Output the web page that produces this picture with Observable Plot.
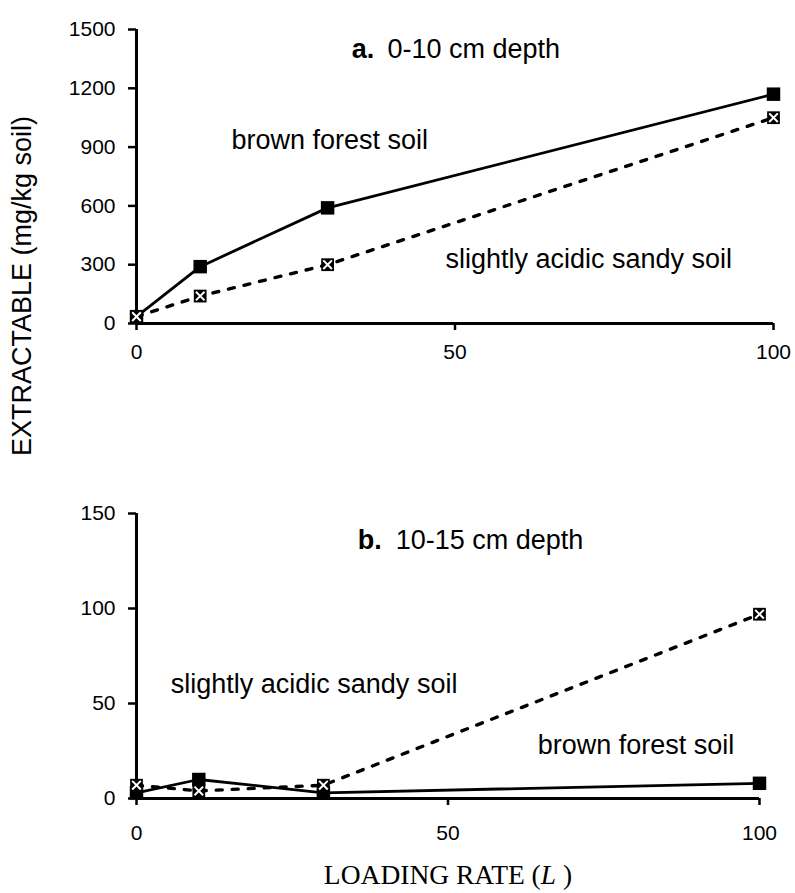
<!DOCTYPE html>
<html>
<head>
<meta charset="utf-8">
<script src="https://cdn.jsdelivr.net/npm/d3@7"></script>
<script src="https://cdn.jsdelivr.net/npm/@observablehq/plot@0.6"></script>
<style>
  html, body { margin: 0; padding: 0; background: #fff; }
  #wrap { position: relative; width: 795px; height: 893px; background: #fff; overflow: hidden; }
  #top, #bottom { position: absolute; left: 0; }
  #top { top: 0; }
  #bottom { top: 480px; }
  #ytitle { position: absolute; left: 22px; top: 286px; transform: translate(-50%, -50%) rotate(-90deg);
    white-space: nowrap; font: 27px/27px "Liberation Sans", Arial, sans-serif; color: #000; }
  #xtitle { position: absolute; left: 448px; top: 861px; transform: translateX(-50%); white-space: nowrap;
    font: 27.5px/27.5px "Liberation Serif", "Times New Roman", serif; color: #000; }
</style>
</head>
<body>
<div id="wrap">
  <div id="top"></div>
  <div id="bottom"></div>
  <div id="ytitle">EXTRACTABLE (mg/kg soil)</div>
  <div id="xtitle">LOADING RATE (<i>L</i> )</div>
</div>
<script>
// Data
const loading = [0, 10, 30, 100];
const topBrown = [35, 290, 590, 1170];   // brown forest soil, 0-10 cm
const topSandy = [35, 140, 300, 1050];   // slightly acidic sandy soil, 0-10 cm
const botBrown = [3, 10, 3, 8];          // brown forest soil, 10-15 cm
const botSandy = [7, 4, 7, 97];          // slightly acidic sandy soil, 10-15 cm
const topYTicks = [0, 300, 600, 900, 1200, 1500];
const botYTicks = [0, 50, 100, 150];
const xTicks = [0, 50, 100];
const labelBrown = "brown forest soil";
const labelSandy = "slightly acidic sandy soil";
const titleTopLetter = "a.";
const titleTopText = "0-10 cm depth";
const titleBotLetter = "b.";
const titleBotText = "10-15 cm depth";

const rows = (b, s) => loading.map((x, i) => ({x, brown: b[i], sandy: s[i]}));

function panel({data, yDomain, yTicks, marginTop, marginBottom, marginRight, xPad, texts}) {
  return Plot.plot({
    width: 795,
    height: 380,
    marginLeft: 136,
    marginRight,
    marginTop,
    marginBottom,
    style: {fontFamily: '"Liberation Sans", Arial, sans-serif', fontSize: "21px", color: "#000", background: "#fff"},
    x: {domain: [0, 100]},
    y: {domain: yDomain},
    marks: [
      Plot.axisY({ticks: yTicks, tickFormat: d => String(d), tickSize: 8, tickPadding: 13, strokeWidth: 2.5, label: null, fontSize: 21}),
      Plot.axisX({ticks: xTicks, tickFormat: d => String(d), tickSize: 7, tickPadding: xPad, strokeWidth: 2.5, label: null, fontSize: 21}),
      Plot.ruleY([0], {strokeWidth: 3}),
      Plot.ruleX([0], {strokeWidth: 3}),
      Plot.line(data, {x: "x", y: "sandy", stroke: "#000", strokeWidth: 3.4, strokeDasharray: "6,10"}),
      Plot.line(data, {x: "x", y: "brown", stroke: "#000", strokeWidth: 2.8}),
      Plot.dot(data, {x: "x", y: "brown", symbol: "square", fill: "#000", r: 7.6}),
      Plot.dot(data, {x: "x", y: "sandy", symbol: "square", fill: "#000", r: 7.2}),
      Plot.dot(data, {x: "x", y: "sandy", symbol: "times", stroke: "#fff", strokeWidth: 2, r: 4}),
      ...texts
    ]
  });
}

const txt = (s, x, y, extra = {}) =>
  Plot.text([s], {x, y, text: d => d, textAnchor: "start", lineAnchor: "middle", fontSize: 27, fill: "#000", ...extra});

const topSvg = panel({
  data: rows(topBrown, topSandy),
  yDomain: [0, 1500],
  yTicks: topYTicks,
  marginTop: 29,
  marginBottom: 57,
  marginRight: 22,
  xPad: 14,
  texts: [
    txt(titleTopLetter, 33.8, 1398, {fontWeight: "bold"}),
    txt(titleTopText, 39.4, 1398),
    txt(labelBrown, 14.9, 934),
    txt(labelSandy, 48.5, 327)
  ]
});
document.getElementById("top").appendChild(topSvg);

const botSvg = panel({
  data: rows(botBrown, botSandy),
  yDomain: [0, 150],
  yTicks: botYTicks,
  marginTop: 33,
  marginBottom: 62,
  marginRight: 36,
  xPad: 20,
  texts: [
    txt(titleBotLetter, 35.5, 136, {fontWeight: "bold"}),
    txt(titleBotText, 41.6, 136),
    txt(labelSandy, 5.5, 60),
    txt(labelBrown, 64.4, 28)
  ]
});
document.getElementById("bottom").appendChild(botSvg);
</script>
</body>
</html>
